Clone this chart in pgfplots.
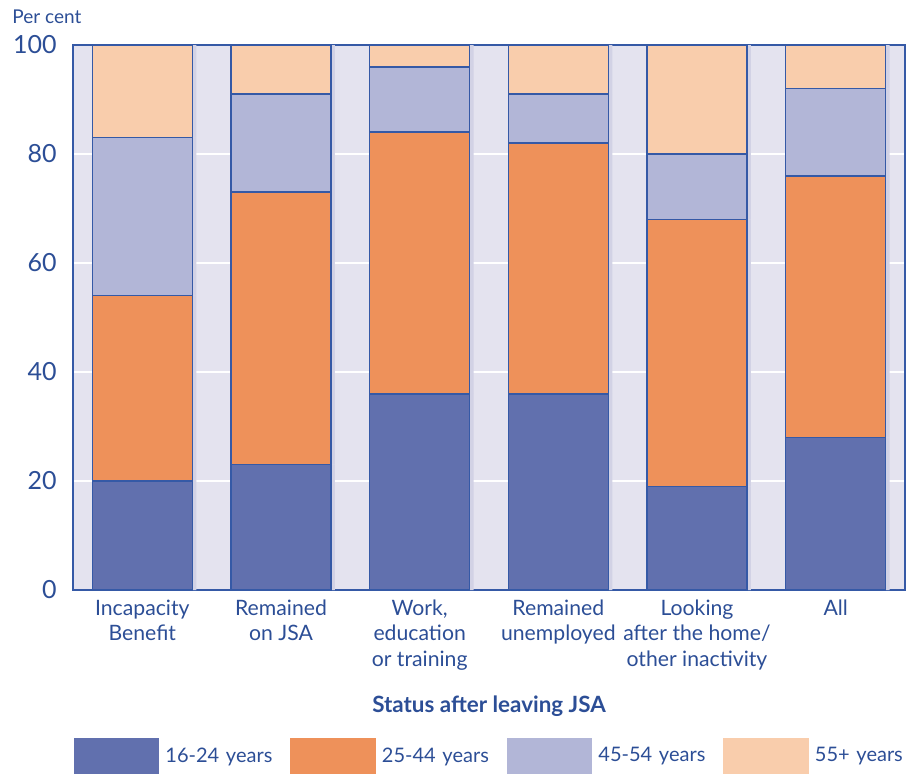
\documentclass[border=0pt]{standalone}
\usepackage{fontspec}
\setmainfont{Lato}
\usepackage{pgfplots}
\pgfplotsset{compat=1.18}

\definecolor{txt}{HTML}{2C4E96}
\definecolor{edge}{HTML}{3559A6}
\definecolor{bgc}{HTML}{E4E3EF}
\definecolor{shadowc}{HTML}{D2D2E5}
\definecolor{cA}{HTML}{6170AE}
\definecolor{cB}{HTML}{EE915A}
\definecolor{cC}{HTML}{B2B6D7}
\definecolor{cD}{HTML}{F9CDAC}

% drop any inherited pre-actions (the bar shadow) from a path
\makeatletter
\tikzset{nopre/.code={\def\tikz@preactions{}}}
\makeatother

% legend key: a plain filled box
\newcommand\keybox[1]{\fill[nopre, #1] (0pt,-8.75pt) rectangle (42pt,8.75pt);}

% share of each age group (per cent), by status after leaving JSA
\pgfplotstableread{
x  a   b   c   d
0  20  34  29  17
1  23  50  18   9
2  36  48  12   4
3  36  46   9   9
4  19  49  12  20
5  28  48  16   8
}\agedata

\begin{document}
\begin{tikzpicture}
\path[use as bounding box] (-36.5pt,-91.5pt) rectangle (419.5pt,295pt);
\begin{axis}[
  name=main,
  at={(0pt,0pt)}, anchor=south west,
  scale only axis,
  width=416pt, height=272.5pt,
  ybar stacked,
  bar width=50pt,
  xmin=-0.5, xmax=5.5,
  ymin=0, ymax=100,
  axis background/.style={fill=bgc},
  axis line style={edge, line width=0.75pt},
  ytick={0,20,...,100},
  ymajorgrids,
  major grid style={white, line width=0.8pt},
  ytick style={draw=none},
  xtick={0,...,5},
  xticklabels={{Incapacity\\Benefit},{Remained\\on JSA},{Work,\\education\\or training},{Remained\\unemployed},{Looking\\after the home/\\other inactivity},{All}},
  xtick style={draw=none},
  extra x ticks={-0.5,0.5,...,5.5},
  extra x tick labels={},
  extra x tick style={tick align=outside, major tick length=6.5pt,
    tick style={draw=edge, line width=0.75pt}, grid=none},
  /pgf/number format/assume math mode=true,
  tick label style={txt},
  yticklabel style={font=\fontsize{12.5}{14}\selectfont, inner sep=0pt, xshift=-8pt},
  xticklabel style={font=\fontsize{10.6}{12.6}\selectfont, align=center, anchor=north, yshift=-1.5pt},
  xlabel={\bfseries Status after leaving JSA},
  xlabel style={at={(rel axis cs:0.5,0)}, anchor=base, yshift=-61pt, inner sep=0pt,
    font=\fontsize{11.2}{13}\selectfont, txt},
  ylabel={Per cent},
  ylabel style={at={(rel axis cs:0,1)}, anchor=base west, rotate=-90, xshift=-30.5pt, yshift=10.75pt,
    inner sep=0pt, font=\fontsize{9.5}{11}\selectfont, txt},
  every axis plot/.append style={draw=edge, line width=0.75pt,
    preaction={fill=shadowc, draw=none, transform canvas={xshift=2pt}}},
  legend columns=4,
  legend style={at={(rel axis cs:0,0)}, anchor=north west, xshift=0.5pt, yshift=-74pt,
    draw=none, fill=none, inner sep=0pt, outer sep=0pt,
    font=\fontsize{10}{12}\selectfont, text=txt,
    nodes={inner sep=0pt, anchor=west},
    /tikz/every odd column/.append style={column sep=3pt},
    /tikz/every even column/.append style={column sep=0pt, text width=62.5pt, align=left}},
]
\addplot[fill=cA, legend image code/.code={\keybox{cA}}] table[x=x, y=a] {\agedata};
\addplot[fill=cB, legend image code/.code={\keybox{cB}}] table[x=x, y=b] {\agedata};
\addplot[fill=cC, legend image code/.code={\keybox{cC}}] table[x=x, y=c] {\agedata};
\addplot[fill=cD, legend image code/.code={\keybox{cD}}] table[x=x, y=d] {\agedata};
\legend{16-24 years, 25-44 years, 45-54 years, 55+ years}
\end{axis}
\end{tikzpicture}
\end{document}
